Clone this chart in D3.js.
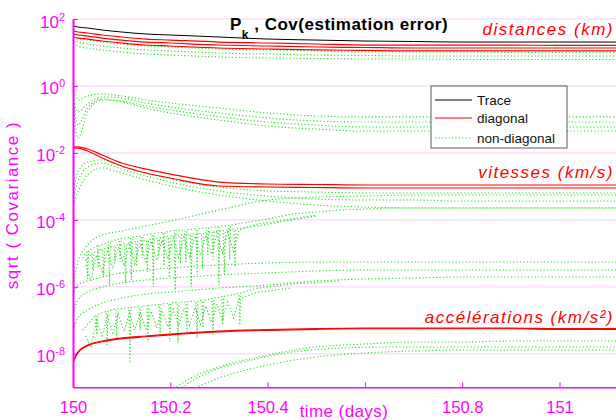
<!DOCTYPE html>
<html><head><meta charset="utf-8">
<script src="https://cdn.jsdelivr.net/npm/d3@7"></script>
<style>body{margin:0;background:#fff} svg{display:block;font-family:Arial,"Liberation Sans",sans-serif}</style>
</head><body><svg id="c" width="616" height="420"></svg>
<script>
// ---------- axes / ticks ----------
const xTickVals = [150, 150.2, 150.4, 150.6, 150.8, 151];
const xTickLabels = ["150", "150.2", "150.4", "", "150.8", "151"]; // 150.6 is hidden under the axis title
const yTickVals = [1e2, 1e0, 1e-2, 1e-4, 1e-6, 1e-8];
const yTickExps = ["2", "0", "-2", "-4", "-6", "-8"];
const legendLabels = ["Trace", "diagonal", "non-diagonal"];

// ---------- common time grid (days) ----------
const tGrid = [150, 150.01, 150.03, 150.06, 150.1, 150.15, 150.2, 150.3, 150.4, 150.5, 150.6, 150.7, 150.8, 150.9, 151.0, 151.1, 151.2];

// distances block
const traceK    = [61.8, 57.7, 53.8, 46.9, 40.9, 35.6, 33.3, 29.0, 25.2, 23.5, 22.0, 21.3, 20.5, 20.5, 20.5, 20.5, 20.5];
const diagDist1 = [43.8, 40.9, 38.2, 33.3, 29.0, 25.2, 23.5, 20.5, 19.2, 17.9, 16.7, 16.7, 16.7, 16.7, 16.2, 16.2, 16.2];
const diagDist2 = [35.6, 33.3, 31.0, 27.0, 23.5, 20.5, 19.2, 16.7, 15.6, 14.6, 14.1, 13.6, 13.6, 13.6, 13.6, 13.6, 13.6];
const diagDist3 = [29.0, 27.0, 25.2, 22.0, 19.2, 16.7, 15.6, 13.6, 12.7, 11.9, 11.5, 11.1, 11.1, 11.1, 11.1, 11.1, 11.1];
const offDist1  = [27.0, 25.2, 23.5, 20.5, 17.9, 15.6, 14.6, 12.7, 11.9, 11.1, 10.35, 10.35, 10.35, 10.0, 10.0, 10.0, 10.0];
const offDist2  = [22.0, 20.5, 17.9, 15.6, 13.6, 11.9, 11.1, 9.66, 9.02, 8.42, 8.14, 7.86, 7.86, 7.86, 7.86, 7.86, 7.86];
const offDist3  = [17.9, 15.6, 13.6, 11.9, 10.35, 9.02, 8.42, 7.34, 6.85, 6.62, 6.40, 6.40, 6.18, 6.18, 6.18, 6.18, 6.18];

// distance/velocity cross terms
const offDV1 = [0.872, 0.382, 0.503, 0.577, 0.503, 0.382, 0.310, 0.220, 0.156, 0.127, 0.119, 0.119, 0.119, 0.119, 0.119, 0.119, 0.119];
const offDV2 = [0.618, 0.167, 0.290, 0.469, 0.438, 0.310, 0.235, 0.156, 0.111, 0.0896, 0.0836, 0.0836, 0.0836, 0.0836, 0.0836, 0.0836, 0.0836];
const offDV3 = [0.438, 0.0278, 0.167, 0.382, 0.356, 0.252, 0.192, 0.119, 0.0836, 0.0680, 0.0593, 0.0593, 0.0593, 0.0593, 0.0593, 0.0593, 0.0593];
const offDV4 = [0.760, 0.0680, 0.220, 0.409, 0.333, 0.220, 0.156, 0.0960, 0.0635, 0.0517, 0.0450, 0.0450, 0.0450, 0.0450, 0.0450, 0.0450, 0.0450];

// velocities block
const diagVit1 = [1.51e-2, 1.51e-2, 1.31e-2, 8.66e-3, 5.0e-3, 3.30e-3, 2.34e-3, 1.35e-3, 1.18e-3, 1.14e-3, 1.10e-3, 1.10e-3, 1.10e-3, 1.10e-3, 1.10e-3, 1.10e-3, 1.10e-3];
const diagVit2 = [1.40e-2, 1.40e-2, 1.14e-2, 7.04e-3, 4.06e-3, 2.51e-3, 1.78e-3, 1.03e-3, 9.6e-4, 9.27e-4, 8.96e-4, 8.96e-4, 8.96e-4, 8.96e-4, 8.96e-4, 8.96e-4, 8.96e-4];
const offVit1 = [5.53e-4, 2.69e-3, 5.35e-3, 6.18e-3, 4.06e-3, 2.51e-3, 1.66e-3, 9.6e-4, 7.29e-4, 6.80e-4, 6.35e-4, 6.35e-4, 6.35e-4, 6.35e-4, 6.35e-4, 6.35e-4, 6.35e-4];
const offVit2 = [3.92e-4, 1.35e-3, 3.79e-3, 5.0e-3, 3.30e-3, 2.04e-3, 1.35e-3, 7.29e-4, 5.17e-4, 4.20e-4, 3.92e-4, 3.92e-4, 3.66e-4, 3.66e-4, 3.66e-4, 3.66e-4, 3.66e-4];
const offVit3 = [2.78e-4, 6.80e-4, 2.18e-3, 3.54e-3, 2.51e-3, 1.55e-3, 1.03e-3, 5.53e-4, 3.66e-4, 2.78e-4, 2.42e-4, 2.26e-4, 2.26e-4, 2.26e-4, 2.26e-4, 2.26e-4, 2.26e-4];
const offVit4 = [1.13e-6, 5.53e-6, 1.78e-5, 3.54e-5, 4.66e-5, 6.57e-5, 9.27e-5, 1.97e-4, 3.92e-4, 4.82e-4, 5.17e-4, 5.53e-4, 5.53e-4, 5.53e-4, 5.53e-4, 5.53e-4, 5.53e-4];

// mixed cross terms
const offMix1 = [5.69e-7, 1.13e-6, 1.50e-6, 1.97e-6, 2.60e-6, 3.19e-6, 3.66e-6, 4.50e-6, 5.17e-6, 5.53e-6, 5.53e-6, 5.53e-6, 5.53e-6, 5.53e-6, 5.53e-6, 5.53e-6, 5.53e-6];
const offMix2 = [1.44e-7, 4.03e-7, 6.99e-7, 9.86e-7, 1.31e-6, 1.60e-6, 1.84e-6, 2.26e-6, 2.60e-6, 2.98e-6, 3.19e-6, 3.19e-6, 3.19e-6, 3.19e-6, 3.19e-6, 3.19e-6, 3.19e-6];
const offMix3 = [5.13e-8, 1.17e-7, 2.03e-7, 3.28e-7, 4.63e-7, 6.09e-7, 6.99e-7, 9.21e-7, 1.13e-6, 1.50e-6, 1.72e-6, 1.84e-6, 1.97e-6, 1.97e-6, 1.97e-6, 1.97e-6, 1.97e-6];

// accelerations block
const diagAcc1 = [5.69e-9, 1.13e-8, 1.83e-8, 2.41e-8, 2.96e-8, 3.40e-8, 3.90e-8, 4.79e-8, 5.31e-8, 5.69e-8, 5.89e-8, 5.89e-8, 5.89e-8, 5.89e-8, 5.69e-8, 5.69e-8, 5.50e-8];
const diagAcc2 = [5.4e-9, 1.07e-8, 1.74e-8, 2.29e-8, 2.81e-8, 3.23e-8, 3.70e-8, 4.55e-8, 5.04e-8, 5.40e-8, 5.60e-8, 5.60e-8, 5.60e-8, 5.60e-8, 5.40e-8, 5.40e-8, 5.22e-8];

const tAccOff1 = [150.19, 150.25, 150.3, 150.4, 150.5, 150.6, 150.7, 150.8, 150.9, 151.0, 151.1, 151.2];
const offAcc1  = [5.89e-10, 2.17e-9, 4.03e-9, 9.21e-9, 1.60e-8, 1.96e-8, 2.25e-8, 2.25e-8, 2.41e-8, 2.41e-8, 2.41e-8, 2.41e-8];
const tAccOff2 = [150.22, 150.3, 150.4, 150.5, 150.6, 150.7, 150.8, 150.9, 151.0, 151.1, 151.2];
const offAcc2  = [5.89e-10, 1.89e-9, 4.63e-9, 8.03e-9, 1.06e-8, 1.21e-8, 1.30e-8, 1.30e-8, 1.30e-8, 1.30e-8, 1.30e-8];
const tAccOff3 = [150.2, 150.28, 150.35, 150.45, 150.55, 150.65, 150.8, 151.0, 151.2];
const offAcc3  = [5.89e-10, 2.86e-9, 5.69e-9, 1.13e-8, 1.49e-8, 1.60e-8, 1.60e-8, 1.60e-8, 1.60e-8];

// noisy (spiky) cross terms, ~1e-5 band
const tSpikeA1 = [150.020, 150.028, 150.030, 150.032, 150.050, 150.052, 150.054, 150.073, 150.075, 150.077, 150.095, 150.097, 150.099, 150.118, 150.120, 150.122, 150.140, 150.142, 150.144, 150.163, 150.165, 150.167, 150.185, 150.187, 150.189, 150.208, 150.210, 150.212, 150.230, 150.232, 150.234, 150.253, 150.255, 150.257, 150.275, 150.277, 150.279, 150.298, 150.300, 150.302, 150.320, 150.322, 150.324, 150.35, 150.40, 150.45, 150.55, 150.65, 151.2];
const spikeA1  = [7.29e-6, 1.10e-5, 1.72e-6, 1.20e-5, 1.66e-5, 3.66e-6, 1.70e-5, 2.19e-5, 1.13e-6, 2.25e-5, 2.70e-5, 5.53e-6, 2.75e-5, 3.0e-5, 1.60e-6, 3.05e-5, 3.4e-5, 7.29e-6, 3.45e-5, 3.85e-5, 9.86e-7, 3.9e-5, 4.3e-5, 4.20e-6, 4.35e-5, 4.8e-5, 8.03e-7, 4.85e-5, 5.0e-5, 5.53e-6, 5.1e-5, 5.4e-5, 2.26e-6, 5.45e-5, 5.73e-5, 8.96e-6, 5.8e-5, 6.4e-5, 1.13e-6, 6.5e-5, 6.9e-5, 6.35e-6, 7.0e-5, 8.08e-5, 1.06e-4, 1.50e-4, 1.97e-4, 2.26e-4, 2.26e-4];
const tSpikeA2 = [150.025, 150.039, 150.041, 150.043, 150.061, 150.063, 150.065, 150.084, 150.086, 150.088, 150.106, 150.108, 150.110, 150.129, 150.131, 150.133, 150.151, 150.153, 150.155, 150.174, 150.176, 150.178, 150.196, 150.198, 150.200, 150.219, 150.221, 150.223, 150.241, 150.243, 150.245, 150.264, 150.266, 150.268, 150.286, 150.288, 150.290, 150.309, 150.311, 150.313, 150.331, 150.333, 150.335, 150.38, 150.45, 150.5];
const spikeA2  = [6.0e-6, 1.0e-5, 3.2e-6, 1.05e-5, 1.35e-5, 2.0e-6, 1.38e-5, 1.65e-5, 6.0e-6, 1.68e-5, 1.95e-5, 1.3e-6, 1.98e-5, 2.25e-5, 4.5e-6, 2.28e-5, 2.5e-5, 2.8e-6, 2.55e-5, 2.85e-5, 7.5e-6, 2.9e-5, 3.2e-5, 1.9e-6, 3.25e-5, 3.5e-5, 5.0e-6, 3.55e-5, 3.75e-5, 1.0e-6, 3.8e-5, 3.95e-5, 3.5e-6, 4.0e-5, 4.4e-5, 6.5e-6, 4.5e-5, 4.8e-5, 2.4e-6, 4.9e-5, 5.3e-5, 4.0e-6, 5.4e-5, 6.6e-5, 1.0e-4, 1.3e-4];
const tNoiseB = [150.026, 150.037, 150.048, 150.060, 150.071, 150.082, 150.093, 150.105, 150.116, 150.127, 150.138, 150.150, 150.161, 150.172, 150.183, 150.195, 150.206, 150.217, 150.228, 150.240, 150.251, 150.262, 150.273, 150.285, 150.296, 150.307, 150.318, 150.330, 150.341, 150.38, 150.45, 150.5];
const noiseVB = [4.50e-6, 1.5e-6, 8.96e-6, 2.8e-6, 1.27e-5, 3.5e-6, 1.55e-5, 4.2e-6, 1.78e-5, 4.8e-6, 2.04e-5, 5.5e-6, 2.34e-5, 6.1e-6, 2.51e-5, 6.8e-6, 2.88e-5, 7.5e-6, 3.08e-5, 8.0e-6, 3.30e-5, 8.6e-6, 3.54e-5, 9.5e-6, 4.06e-5, 1.05e-5, 4.35e-5, 1.17e-5, 5.0e-5, 7.54e-5, 1.06e-4, 1.40e-4];

// noisy (spiky) cross terms, ~1e-7 band
const tSpikeC1 = [150.020, 150.047, 150.049, 150.051, 150.068, 150.070, 150.072, 150.088, 150.090, 150.092, 150.115, 150.117, 150.119, 150.136, 150.138, 150.140, 150.152, 150.154, 150.156, 150.177, 150.179, 150.181, 150.197, 150.199, 150.201, 150.214, 150.216, 150.218, 150.232, 150.234, 150.236, 150.253, 150.255, 150.257, 150.265, 150.267, 150.269, 150.286, 150.288, 150.290, 150.306, 150.308, 150.310, 150.341, 150.343, 150.345, 150.38, 150.45, 150.55];
const spikeC1  = [5.13e-8, 1.45e-7, 3.64e-8, 1.5e-7, 1.85e-7, 1.83e-8, 1.9e-7, 2.2e-7, 2.58e-8, 2.2e-7, 2.4e-7, 5.31e-9, 2.4e-7, 2.6e-7, 5.13e-8, 2.6e-7, 2.8e-7, 2.10e-8, 2.8e-7, 3.0e-7, 3.64e-8, 3.05e-7, 3.25e-7, 2.25e-8, 3.3e-7, 3.4e-7, 2.10e-8, 3.45e-7, 3.55e-7, 4.47e-8, 3.6e-7, 3.75e-7, 2.96e-8, 3.8e-7, 3.9e-7, 5.89e-8, 3.95e-7, 4.5e-7, 3.64e-8, 4.6e-7, 5.1e-7, 7.24e-8, 5.2e-7, 6.3e-7, 7.24e-8, 6.6e-7, 9.21e-7, 1.21e-6, 1.50e-6];
const tNoiseD = [150.026, 150.037, 150.048, 150.060, 150.071, 150.082, 150.093, 150.105, 150.116, 150.127, 150.138, 150.150, 150.161, 150.172, 150.183, 150.195, 150.206, 150.217, 150.228, 150.240, 150.251, 150.262, 150.273, 150.285, 150.296, 150.307, 150.318, 150.330, 150.341, 150.38, 150.45];
const noiseAccB = [3.40e-8, 1.5e-8, 1.02e-7, 3.5e-8, 1.34e-7, 4.2e-8, 1.54e-7, 4.6e-8, 1.65e-7, 5.1e-8, 1.77e-7, 5.5e-8, 1.89e-7, 5.9e-8, 2.03e-7, 6.3e-8, 2.17e-7, 6.8e-8, 2.32e-7, 7.2e-8, 2.49e-7, 7.7e-8, 2.67e-7, 8.6e-8, 3.06e-7, 9.8e-8, 3.51e-7, 1.17e-7, 4.32e-7, 6.99e-7, 9.21e-7];

// ---------- series table ----------
const G = "green", R = "red", K = "black";
const series = [
  {t: tGrid, v: offDist1, k: G, s: true}, {t: tGrid, v: offDist2, k: G, s: true}, {t: tGrid, v: offDist3, k: G, s: true},
  {t: tGrid, v: offDV1, k: G, s: true}, {t: tGrid, v: offDV2, k: G, s: true}, {t: tGrid, v: offDV3, k: G, s: true}, {t: tGrid, v: offDV4, k: G, s: true},
  {t: tGrid, v: offVit1, k: G, s: true}, {t: tGrid, v: offVit2, k: G, s: true}, {t: tGrid, v: offVit3, k: G, s: true}, {t: tGrid, v: offVit4, k: G, s: true},
  {t: tGrid, v: offMix1, k: G, s: true}, {t: tGrid, v: offMix2, k: G, s: true}, {t: tGrid, v: offMix3, k: G, s: true},
  {t: tAccOff1, v: offAcc1, k: G, s: true}, {t: tAccOff2, v: offAcc2, k: G, s: true}, {t: tAccOff3, v: offAcc3, k: G, s: true},
  {t: tSpikeA1, v: spikeA1, k: G, s: false}, {t: tSpikeA2, v: spikeA2, k: G, s: false}, {t: tNoiseB, v: noiseVB, k: G, s: false},
  {t: tSpikeC1, v: spikeC1, k: G, s: false}, {t: tNoiseD, v: noiseAccB, k: G, s: false},
  {t: tGrid, v: diagDist1, k: R, s: true}, {t: tGrid, v: diagDist2, k: R, s: true}, {t: tGrid, v: diagDist3, k: R, s: true},
  {t: tGrid, v: diagVit1, k: R, s: true}, {t: tGrid, v: diagVit2, k: R, s: true},
  {t: tGrid, v: diagAcc1, k: R, s: true}, {t: tGrid, v: diagAcc2, k: R, s: true},
  {t: tGrid, v: traceK, k: K, s: true}
];

// ---------- drawing ----------
const MAG = "#ff00ff", GRID = "#fcd0fc";
const styles = {
  green: {stroke: "#22dd22", w: 1.1, dash: "1.2,2.2"},
  red:   {stroke: "#ff0000", w: 1.2, dash: null},
  black: {stroke: "#000000", w: 1.0, dash: null}
};
const svg = d3.select("#c");
const x = d3.scaleLinear().domain([150, 151.2]).range([73, 656.8]);
const y = d3.scaleLog().domain([1e-9, 1e2]).range([387.3, 19]);

svg.append("g").selectAll("line").data(yTickVals).join("line")
  .attr("x1", 73).attr("x2", 616).attr("y1", d => y(d)).attr("y2", d => y(d))
  .attr("stroke", GRID).attr("stroke-width", 1);

svg.append("clipPath").attr("id", "pc").append("rect")
  .attr("x", 73).attr("y", 17).attr("width", 543).attr("height", 370.3);
const plot = svg.append("g").attr("clip-path", "url(#pc)");

series.forEach(s => {
  const st = styles[s.k];
  const gen = d3.line().x(d => x(d[0])).y(d => y(d[1])).curve(s.s ? d3.curveMonotoneX : d3.curveLinear);
  plot.append("path").datum(s.t.map((t, i) => [t, s.v[i]]))
    .attr("d", gen).attr("fill", "none").attr("stroke", st.stroke)
    .attr("stroke-width", st.w).attr("stroke-dasharray", st.dash);
});

// axes
const fam = "Arial, 'Liberation Sans', sans-serif";
const gy = svg.append("g").attr("transform", "translate(73,0)")
  .call(d3.axisLeft(y).tickValues(yTickVals).tickSizeInner(-5).tickSizeOuter(0).tickPadding(7).tickFormat(() => ""));
gy.attr("font-family", fam).attr("font-size", 17);
gy.select(".domain").attr("stroke", MAG).attr("stroke-width", 2);
gy.selectAll(".tick line").attr("stroke", MAG);
gy.selectAll(".tick text").each(function(d, i) {
  const t = d3.select(this).attr("dy", null).attr("y", 8).attr("x", -8).attr("fill", MAG).text(null);
  t.append("tspan").text("10");
  t.append("tspan").attr("dy", -7).attr("font-size", 11).text(yTickExps[i]);
});

const gx = svg.append("g").attr("transform", "translate(0,387.3)")
  .call(d3.axisBottom(x).tickValues(xTickVals).tickSizeInner(-5).tickSizeOuter(0).tickFormat((d, i) => xTickLabels[i]));
gx.attr("font-family", fam).attr("font-size", 16.5);
gx.select(".domain").attr("stroke", MAG).attr("stroke-width", 1.5);
gx.selectAll(".tick line").attr("stroke", MAG);
gx.selectAll(".tick text").attr("dy", null).attr("y", 26).attr("fill", MAG);

// axis labels
svg.append("text").attr("x", 344).attr("y", 417).attr("text-anchor", "middle")
  .attr("font-family", fam).attr("font-size", 17).attr("letter-spacing", 0.4).attr("fill", MAG).text("time (days)");
svg.append("text").attr("transform", "translate(18,205) rotate(-90)").attr("text-anchor", "middle")
  .attr("font-family", fam).attr("font-size", 17).attr("letter-spacing", 1.5).attr("fill", MAG).text("sqrt ( Covariance )");

// title
const title = svg.append("text").attr("x", 230).attr("y", 30).attr("font-family", fam)
  .attr("font-weight", "bold").attr("font-size", 17).attr("letter-spacing", 0.5).attr("fill", "#000");
title.append("tspan").text("P");
title.append("tspan").attr("dy", 9).attr("font-size", 12).text("k");
title.append("tspan").attr("dy", -9).text(" , Cov(estimation error)");

// block annotations
const notes = [["distances (km)", 35], ["vitesses (km/s)", 178], ["accélérations (km/s²)", 323]];
svg.selectAll("text.note").data(notes).join("text").attr("class", "note")
  .attr("x", 614).attr("y", d => d[1]).attr("text-anchor", "end")
  .attr("font-family", fam).attr("font-style", "italic").attr("font-size", 17)
  .attr("letter-spacing", 1.5).attr("fill", "#ff0000").text(d => d[0]);

// legend
const lg = svg.append("g");
lg.append("rect").attr("x", 431).attr("y", 86).attr("width", 136).attr("height", 62)
  .attr("fill", "#fff").attr("stroke", "#333").attr("stroke-width", 0.8);
const lgKinds = [K, R, G], lgY = [100, 118, 138];
legendLabels.forEach((lab, i) => {
  const st = styles[lgKinds[i]];
  lg.append("line").attr("x1", 435).attr("x2", 472).attr("y1", lgY[i]).attr("y2", lgY[i])
    .attr("stroke", st.stroke).attr("stroke-width", st.w).attr("stroke-dasharray", st.dash);
  lg.append("text").attr("x", 477).attr("y", lgY[i] + 5).attr("font-family", fam)
    .attr("font-size", 13.5).attr("fill", "#111").text(lab);
});
</script></body></html>
